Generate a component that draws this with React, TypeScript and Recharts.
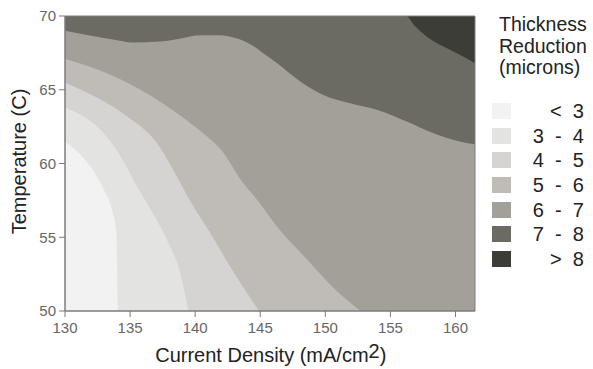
import { ComposedChart, Area, XAxis, YAxis, CartesianGrid, ReferenceArea } from "recharts";

// contour boundaries: temperature (y) at which thickness reduction reaches each level, by current density (x)
const level8 = [[130, 70], [156.2, 70], [156.9, 69.3], [157.8, 68.6], [159.5, 67.75], [160.7, 67.2], [161.5, 66.8]];
const level7 = [
  [130, 69.0], [131.8, 68.7], [133.7, 68.4], [135.2, 68.2], [137.3, 68.27], [139, 68.5], [140.4, 68.7],
  [141.8, 68.7], [143.3, 68.45], [144.2, 68.1], [145.2, 67.5], [146.3, 66.8], [148.1, 65.55], [149.85, 64.64],
  [151.9, 64.08], [154, 63.63], [156.3, 62.83], [158.3, 62.05], [160.4, 61.48], [161.5, 61.3],
];
const level6 = [
  [130, 67.1], [132.7, 66.3], [135.8, 65.0], [138.3, 63.6], [140.4, 62.2], [142.2, 60.7], [143.5, 58.9],
  [144.8, 57.5], [146.5, 55.5], [148.6, 53.5], [150.6, 51.6], [152.7, 50],
];
const level5 = [
  [130, 65.5], [132.7, 64.35], [134.75, 63.2], [137.05, 61.4], [138.3, 59.6], [139.6, 57.5], [141.15, 55.3],
  [142.7, 53.0], [144, 51.2], [144.9, 50],
];
const level4 = [[130, 63.8], [132.7, 62.3], [134.2, 60.6], [135.5, 58.5], [136.9, 56.4], [137.9, 54.7], [138.85, 52.6], [139.5, 50]];
const level3 = [[130, 61.5], [131.2, 60.6], [132.2, 59.5], [133.0, 58.2], [133.6, 56.9], [133.95, 55.3], [134.0, 53.0], [134.05, 50]];

const xTicks = [130, 135, 140, 145, 150, 155, 160];
const yTicks = [50, 55, 60, 65, 70];

const legendLabels = ["<  3", "3  -  4", "4  -  5", "5  -  6", "6  -  7", "7  -  8", ">  8"];
const bandColors = ["#f2f2f2", "#e3e3e2", "#d5d4d2", "#bfbcb8", "#a3a09a", "#6b6b63", "#3d3d37"];

// areas painted from highest level down, each colored with the band just below its level
const layers = [
  { key: "l8", pts: level8, color: bandColors[5] },
  { key: "l7", pts: level7, color: bandColors[4] },
  { key: "l6", pts: level6, color: bandColors[3] },
  { key: "l5", pts: level5, color: bandColors[2] },
  { key: "l4", pts: level4, color: bandColors[1] },
  { key: "l3", pts: level3, color: bandColors[0] },
];

const rowMap = new Map<number, any>();
layers.forEach((l) => {
  l.pts.forEach(([x, y]) => {
    if (!rowMap.has(x)) rowMap.set(x, { x });
    rowMap.get(x)[l.key] = y;
  });
});
const data = Array.from(rowMap.values()).sort((a, b) => a.x - b.x);

const tickFont = "'Liberation Sans Narrow', 'Arial Narrow', 'Liberation Sans', Arial, sans-serif";
const font = "'Liberation Sans', Arial, sans-serif";

const XTitle = () => (
  <text x={270.8} y={361.7} textAnchor="middle" fill="#222" fontSize={20} fontFamily={font}>
    Current Density (mA/cm<tspan dy={-4}>2</tspan><tspan dy={4}>)</tspan>
  </text>
);

const YTitle = () => (
  <text x={0} y={0} transform="translate(26,161.5) rotate(-90)" textAnchor="middle" fill="#222" fontSize={20} fontFamily={font}>
    Temperature (C)
  </text>
);

export default function App() {
  return (
    <div style={{ position: "absolute", left: 0, top: 0, width: 593, height: 369, overflow: "hidden" }}>
      <ComposedChart width={593} height={369} data={data} margin={{ top: 16, right: 118, bottom: 0, left: 0 }}>
        <CartesianGrid fill={bandColors[6]} stroke="none" horizontal={false} vertical={false} />
        <XAxis
          dataKey="x"
          type="number"
          domain={[130, 161.5]}
          ticks={xTicks}
          allowDataOverflow
          height={58}
          tickSize={6}
          tickMargin={5}
          stroke="#7a7a7a"
          tick={{ fill: "#666", fontSize: 15, fontFamily: tickFont }}
          label={{ content: XTitle }}
        />
        <YAxis
          type="number"
          domain={[50, 70]}
          ticks={yTicks}
          allowDataOverflow
          width={65}
          tickSize={6}
          tickMargin={3}
          stroke="#7a7a7a"
          tick={{ fill: "#666", fontSize: 15, fontFamily: tickFont }}
          label={{ content: YTitle }}
        />
        {layers.map((l) => (
          <Area
            key={l.key}
            dataKey={l.key}
            type="monotoneX"
            fill={l.color}
            fillOpacity={1}
            stroke="none"
            connectNulls
            baseValue={50}
            isAnimationActive={false}
            dot={false}
            activeDot={false}
          />
        ))}
        <ReferenceArea x1={130} x2={161.5} y1={50} y2={70} fill="none" stroke="#7f7f7f" ifOverflow="visible" />
      </ComposedChart>

      <div
        style={{
          position: "absolute",
          left: 499,
          top: 14,
          fontFamily: font,
          fontSize: 19.5,
          lineHeight: "21.6px",
          color: "#222",
          whiteSpace: "nowrap",
        }}
      >
        Thickness
        <br />
        Reduction
        <br />
        (microns)
      </div>
      {legendLabels.map((lab, i) => (
        <div
          key={lab}
          style={{
            position: "absolute",
            left: 492,
            top: 103.3 + i * 24.55,
            width: 92,
            height: 16,
            display: "flex",
            alignItems: "center",
            justifyContent: "space-between",
          }}
        >
          <div style={{ width: 19, height: 16, background: bandColors[i] }} />
          <div style={{ fontFamily: font, fontSize: 20, lineHeight: "20px", color: "#222", whiteSpace: "pre" }}>{lab}</div>
        </div>
      ))}
    </div>
  );
}
